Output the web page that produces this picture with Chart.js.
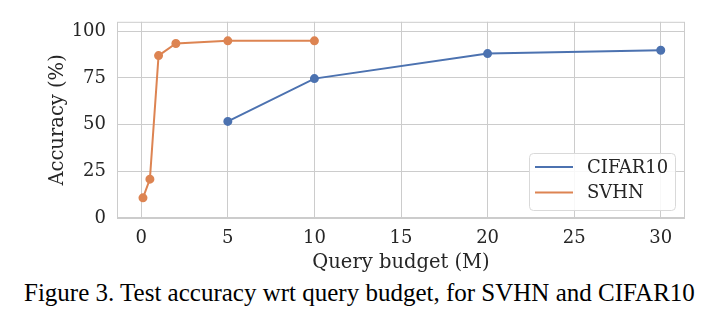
<!DOCTYPE html>
<html>
<head>
<meta charset="utf-8">
<script src="https://cdn.jsdelivr.net/npm/chart.js@4.4.1/dist/chart.umd.min.js"></script>
<style>
  html, body { margin: 0; padding: 0; background: #fff; }
  #wrap { position: relative; width: 727px; height: 330px; }
  #box { position: absolute; left: 0; top: 0; width: 727px; height: 275px; }
  #caption {
    position: absolute; left: 24px; top: 280px;
    font-family: "Liberation Serif", "Times New Roman", serif;
    font-size: 25px; line-height: 25px; color: #000; white-space: nowrap;
  }
</style>
</head>
<body>
<div id="wrap">
  <div id="box"><canvas id="accGraph"></canvas></div>
  <div id="caption">Figure 3. Test accuracy wrt query budget, for SVHN and CIFAR10</div>
</div>
<script>
// data
var cifarBudget = [5, 10, 20, 30];
var cifarAcc = [51.7, 74.6, 88.0, 89.8];
var svhnBudget = [0.1, 0.5, 1, 2, 5, 10];
var svhnAcc = [10.8, 20.8, 86.9, 93.4, 94.8, 94.8];

var xTicks = [0, 5, 10, 15, 20, 25, 30];
var yTicks = [0, 25, 50, 75, 100];

var seriesNames = ['CIFAR10', 'SVHN'];
var seriesColors = ['#4c72b0', '#dd8452'];

var TXT = '#262626';
var GRID = '#cccccc';
var SERIF = "'DejaVu Serif', serif";

function toPoints(xs, ys) {
    var pts = [];
    for (var i = 0; i < xs.length; i++) {
        pts.push({x: xs[i], y: ys[i]});
    }
    return pts;
}

// outline on all four sides + legend inside the plot
var framePlugin = {
    id: 'frame',
    beforeDatasetsDraw: function(chart) {
        var a = chart.chartArea, c = chart.ctx;
        c.save();
        c.strokeStyle = GRID;
        c.lineWidth = 1;
        c.strokeRect(a.left + 0.5, a.top + 0.5, a.right - a.left - 1, a.bottom - a.top - 1);
        c.restore();
    },
    afterDraw: function(chart) {
        var a = chart.chartArea, c = chart.ctx;
        var w = 146, h = 57;
        var x0 = a.right - 10 - w, y0 = a.bottom - 8 - h;
        c.save();
        c.beginPath();
        c.roundRect(x0 + 0.5, y0 + 0.5, w, h, 4);
        c.fillStyle = 'rgba(255,255,255,0.85)';
        c.fill();
        c.strokeStyle = '#d9d9d9';
        c.lineWidth = 1;
        c.stroke();
        c.font = '18px ' + SERIF;
        c.textBaseline = 'middle';
        c.fillStyle = TXT;
        chart.data.datasets.forEach(function(ds, i) {
            var ly = y0 + 14 + i * 25.6;
            c.beginPath();
            c.moveTo(x0 + 6, ly);
            c.lineTo(x0 + 44, ly);
            c.strokeStyle = ds.borderColor;
            c.lineWidth = 2;
            c.stroke();
            c.fillText(ds.label, x0 + 58, ly + 1);
        });
        c.restore();
    }
};

const ctx = document.getElementById('accGraph').getContext('2d');
const accGraph = new Chart(ctx, {
    type: 'line',
    data: {
        datasets: [
            {
                label: seriesNames[0],
                data: toPoints(cifarBudget, cifarAcc),
                borderColor: seriesColors[0],
                backgroundColor: seriesColors[0],
                borderWidth: 2,
                pointRadius: 3.5,
                pointHoverRadius: 3.5,
                tension: 0
            },
            {
                label: seriesNames[1],
                data: toPoints(svhnBudget, svhnAcc),
                borderColor: seriesColors[1],
                backgroundColor: seriesColors[1],
                borderWidth: 2,
                pointRadius: 3.5,
                pointHoverRadius: 3.5,
                tension: 0
            }
        ]
    },
    options: {
        responsive: true,
        maintainAspectRatio: false,
        animation: false,
        layout: { padding: { top: 19, right: 42, left: 0, bottom: 0 } },
        plugins: {
            legend: { display: false },
            tooltip: { enabled: false }
        },
        scales: {
            x: {
                type: 'linear',
                min: -1.4,
                max: 31.4,
                afterFit: function(scale) { scale.height = 57; },
                afterBuildTicks: function(scale) {
                    scale.ticks = xTicks.map(function(v) { return {value: v}; });
                },
                grid: { color: GRID, drawTicks: false },
                border: { display: false },
                ticks: {
                    includeBounds: false,
                    padding: 10,
                    color: TXT,
                    font: { family: SERIF, size: 18 }
                },
                title: {
                    display: true,
                    text: 'Query budget (M)',
                    color: TXT,
                    font: { family: SERIF, size: 19.5 },
                    padding: { top: 2, bottom: 0 }
                }
            },
            y: {
                min: 0,
                max: 105,
                afterFit: function(scale) { scale.width = 117; },
                afterBuildTicks: function(scale) {
                    scale.ticks = yTicks.map(function(v) { return {value: v}; });
                },
                grid: { color: GRID, drawTicks: false },
                border: { display: false },
                ticks: {
                    includeBounds: false,
                    padding: 11,
                    color: TXT,
                    font: { family: SERIF, size: 18 }
                },
                title: {
                    display: true,
                    text: 'Accuracy (%)',
                    color: TXT,
                    font: { family: SERIF, size: 19.5 },
                    padding: { top: 46, bottom: 0 }
                }
            }
        }
    },
    plugins: [framePlugin]
});
</script>
</body>
</html>
